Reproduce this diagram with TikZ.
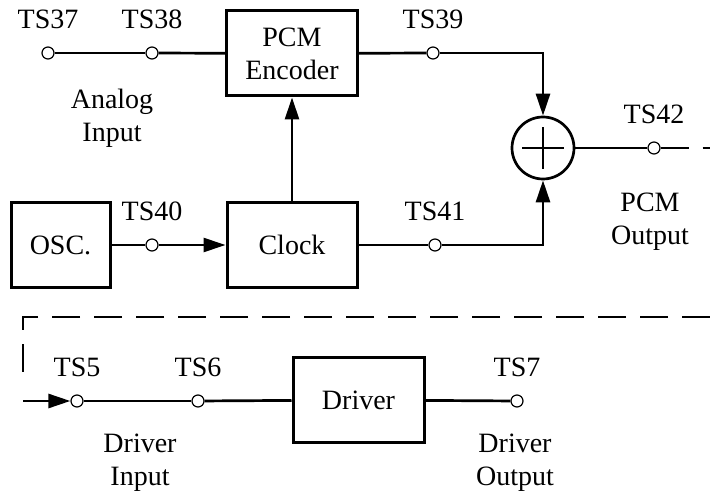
\documentclass[tikz,border=0pt]{standalone}
\usepackage{fontspec}
\setmainfont{Liberation Serif}
\usetikzlibrary{positioning, arrows.meta}

\begin{document}
\begin{tikzpicture}[
  x=1pt, y=-1pt,
  font=\fontsize{28}{33}\selectfont,
  blockbox/.style={draw, line width=3pt, minimum width=131pt, minimum height=85pt,
    inner sep=0pt, align=center},
  tpoint/.style={circle, draw, line width=1.2pt, fill=white, minimum size=12pt, inner sep=0pt},
  tag/.style={inner sep=0pt, anchor=south},
  note/.style={inner sep=0pt, align=center},
  sig/.style={line width=2.7pt},
  tip/.style={-{Triangle[length=22pt,width=14pt]}},
  dashline/.style={line width=2.7pt, dash pattern=on 28pt off 14pt},
  node distance=17pt,
]
  \useasboundingbox (0,0) rectangle (710,497);

  % upper row: analog input to PCM output
  \node[tpoint] (ts37) at (48,53) {};
  \node[tpoint] (ts38) at (152,53) {};
  \node[blockbox] (enc) at (292,53.5) {PCM\\Encoder};
  \node[tpoint] (ts39) at (433,53) {};
  \node[circle, draw, line width=2.7pt, minimum size=62pt, inner sep=0pt] (sum) at (543,148) {};
  \node[tpoint] (ts42) at (654,148) {};

  \node[tag, above=of ts37] (l37) {TS37};
  \node[tag, above=of ts38] (l38) {TS38};
  \node[tag, above=of ts39] (l39) {TS39};
  \node[tag, above=of ts42] (l42) {TS42};
  \node[note] (ain) at (112,118) {Analog\\Input};
  \node[note] (pout) at (650,222) {PCM\\Output};

  % clock row
  \node[blockbox, minimum width=99pt] (osc) at (60.5,245) {OSC.};
  \node[tpoint] (ts40) at (152,245) {};
  \node[blockbox, minimum width=130pt] (clk) at (292,245) {Clock};
  \node[tpoint] (ts41) at (435,245) {};
  \node[tag, above=of ts40] (l40) {TS40};
  \node[tag, above=of ts41] (l41) {TS41};

  % driver row
  \node[tpoint] (ts5) at (77,401) {};
  \node[tpoint] (ts6) at (198,401) {};
  \node[blockbox] (drv) at (358.5,400) {Driver};
  \node[tpoint] (ts7) at (517,401) {};
  \node[tag, above=of ts5] (l5) {TS5};
  \node[tag, above=of ts6] (l6) {TS6};
  \node[tag, above=of ts7] (l7) {TS7};
  \node[note] (din) at (140,463) {Driver\\Input};
  \node[note] (dout) at (515,463) {Driver\\Output};

  \coordinate (r1) at (710,148);
  \coordinate (r2) at (710,317);
  \coordinate (c1) at (23,317);
  \coordinate (c2) at (23,401);

  % connectors
  \draw[sig] (ts37) -- (ts38);
  \draw[sig] (ts38) -- (enc);
  \draw[sig] (enc) -- (ts39);
  \draw[sig, tip] (ts39) -| (sum);
  \draw[sig, tip] (clk) -- (enc);
  \draw[sig] (osc) -- (ts40);
  \draw[sig, tip] (ts40) -- (clk);
  \draw[sig] (clk) -- (ts41);
  \draw[sig, tip] (ts41) -| (sum);
  \draw[sig] (sum) -- (ts42);
  \draw[sig] ([xshift=-21pt]sum.center) -- ([xshift=21pt]sum.center);
  \draw[sig] ([yshift=-21pt]sum.center) -- ([yshift=21pt]sum.center);
  \draw[dashline] (ts42) -- (r1);
  \draw[dashline] (r2) -- (c1) -- ([yshift=16pt]c2);
  \draw[sig, tip] (c2) -- (ts5);
  \draw[sig] (ts5) -- (ts6);
  \draw[sig] (ts6) -- (drv);
  \draw[sig] (drv) -- (ts7);
\end{tikzpicture}
\end{document}
